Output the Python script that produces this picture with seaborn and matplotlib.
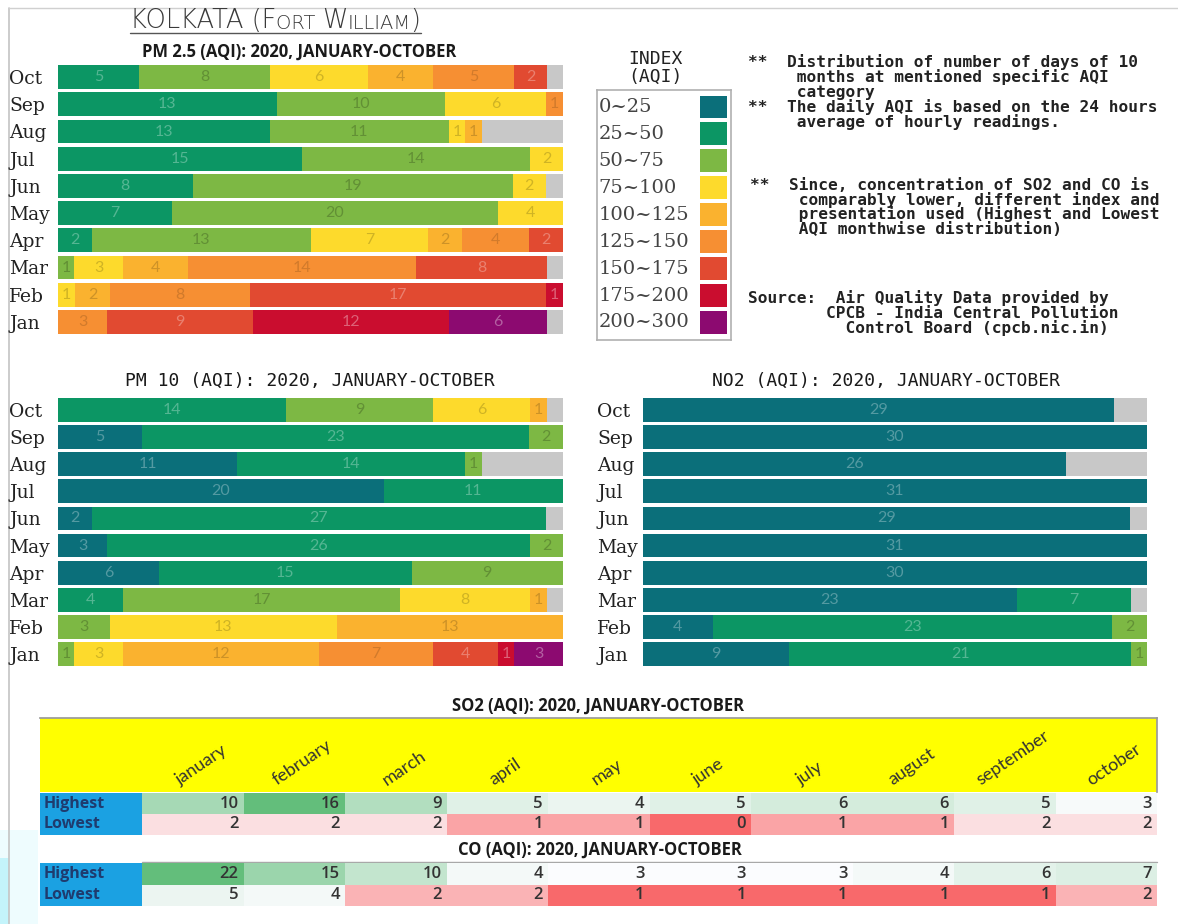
import numpy as np
import pandas as pd
import matplotlib.pyplot as plt
import seaborn as sns
from matplotlib.colors import LinearSegmentedColormap, TwoSlopeNorm, to_rgb
from matplotlib.lines import Line2D
from matplotlib.patches import Rectangle

# AQI categories and colours
aqi_bins = ['0~25', '25~50', '50~75', '75~100', '100~125', '125~150', '150~175', '175~200', '200~300']
aqi_colors = ['#0B6F7A', '#0C9664', '#7DB844', '#FDDA2C', '#FAB22F', '#F68F33', '#E14A31', '#CA0D2F', '#8C0A70']
missing_color = '#C8C8C8'

# months, top row first
months_short = ['Oct', 'Sep', 'Aug', 'Jul', 'Jun', 'May', 'Apr', 'Mar', 'Feb', 'Jan']
days_in_month = [31, 30, 31, 31, 30, 31, 30, 31, 29, 31]

# number of days per AQI category (columns follow aqi_bins)
pm25_days = [[0, 5, 8, 6, 4, 5, 2, 0, 0],
             [0, 13, 10, 6, 0, 1, 0, 0, 0],
             [0, 13, 11, 1, 1, 0, 0, 0, 0],
             [0, 15, 14, 2, 0, 0, 0, 0, 0],
             [0, 8, 19, 2, 0, 0, 0, 0, 0],
             [0, 7, 20, 4, 0, 0, 0, 0, 0],
             [0, 2, 13, 7, 2, 4, 2, 0, 0],
             [0, 0, 1, 3, 4, 14, 8, 0, 0],
             [0, 0, 0, 1, 2, 8, 17, 1, 0],
             [0, 0, 0, 0, 0, 3, 9, 12, 6]]

pm10_days = [[0, 14, 9, 6, 1, 0, 0, 0, 0],
             [5, 23, 2, 0, 0, 0, 0, 0, 0],
             [11, 14, 1, 0, 0, 0, 0, 0, 0],
             [20, 11, 0, 0, 0, 0, 0, 0, 0],
             [2, 27, 0, 0, 0, 0, 0, 0, 0],
             [3, 26, 2, 0, 0, 0, 0, 0, 0],
             [6, 15, 9, 0, 0, 0, 0, 0, 0],
             [0, 4, 17, 8, 1, 0, 0, 0, 0],
             [0, 0, 3, 13, 13, 0, 0, 0, 0],
             [0, 0, 1, 3, 12, 7, 4, 1, 3]]

no2_days = [[29, 0, 0, 0, 0, 0, 0, 0, 0],
            [30, 0, 0, 0, 0, 0, 0, 0, 0],
            [26, 0, 0, 0, 0, 0, 0, 0, 0],
            [31, 0, 0, 0, 0, 0, 0, 0, 0],
            [29, 0, 0, 0, 0, 0, 0, 0, 0],
            [31, 0, 0, 0, 0, 0, 0, 0, 0],
            [30, 0, 0, 0, 0, 0, 0, 0, 0],
            [23, 7, 0, 0, 0, 0, 0, 0, 0],
            [4, 23, 2, 0, 0, 0, 0, 0, 0],
            [9, 21, 1, 0, 0, 0, 0, 0, 0]]

# SO2 / CO highest and lowest AQI per month
months_long = ['january', 'february', 'march', 'april', 'may', 'june',
               'july', 'august', 'september', 'october']
so2_highest = [10, 16, 9, 5, 4, 5, 6, 6, 5, 3]
so2_lowest = [2, 2, 2, 1, 1, 0, 1, 1, 2, 2]
co_highest = [22, 15, 10, 4, 3, 3, 3, 4, 6, 7]
co_lowest = [5, 4, 2, 2, 1, 1, 1, 1, 1, 2]

notes = ["**  Distribution of number of days of 10",
         "     months at mentioned specific AQI",
         "     category",
         "**  The daily AQI is based on the 24 hours",
         "     average of hourly readings."]
notes2 = ["**  Since, concentration of SO2 and CO is",
          "     comparably lower, different index and",
          "     presentation used (Highest and Lowest",
          "     AQI monthwise distribution)"]
source = ["Source:  Air Quality Data provided by",
          "        CPCB - India Central Pollution",
          "          Control Board (cpcb.nic.in)"]

sns.set_theme(style='white')
plt.rcParams['font.family'] = ['DejaVu Sans']

W, H = 1178, 924
fig = plt.figure(figsize=(W / 100, H / 100), dpi=100)


def box(x0, y0, x1, y1):
    return [x0 / W, 1 - y1 / H, (x1 - x0) / W, (y1 - y0) / H]


def fy(y):
    return 1 - y / H


def shade(color, amount):
    c = np.array(to_rgb(color))
    if amount > 0:
        return tuple(c + (1 - c) * amount)
    return tuple(c * (1 + amount))


label_shift = [0.3, 0.3, -0.22, -0.18, -0.18, -0.15, 0.3, 0.35, 0.35]

ax_bg = fig.add_axes([0, 0, 1, 1])
ax_bg.set_axis_off()
ax_bg.set_xlim(0, W)
ax_bg.set_ylim(H, 0)

# frame and screen artefact
ax_bg.add_line(Line2D([9, 9], [8, H], color='#c4c4c4', lw=1.2))
ax_bg.add_line(Line2D([9, W], [8, 8], color='#d0d0d0', lw=1))
ax_bg.add_patch(Rectangle((0, 830), 38, 94, color='#eefcfe', lw=0))
ax_bg.add_patch(Rectangle((0, 858), 9, 66, color='#c4f4fb', lw=0))

# main title with small caps look
pieces = [("KOLKATA (F", 18.5), ("ORT ", 14), ("W", 18.5), ("ILLIAM", 14), (")", 18.5)]
t = ax_bg.text(130, 33, pieces[0][0], fontsize=pieces[0][1], va='bottom', ha='left',
               color='#3a3a3a', fontweight='light')
first = t
for txt, sz in pieces[1:]:
    t = ax_bg.annotate(txt, xy=(1, 0), xycoords=t, va='bottom', ha='left', fontsize=sz,
                       color='#3a3a3a', fontweight='light')
fig.canvas.draw()
r = fig.canvas.get_renderer()
x0 = first.get_window_extent(r).x0
x1 = t.get_window_extent(r).x1
ax_bg.add_line(Line2D([x0, x1], [33, 33], color='#555555', lw=1))


def stacked(ax, days, label_pad):
    df = pd.DataFrame(days, index=months_short, columns=aqi_bins)
    total = pd.Series(days_in_month, index=months_short)
    share = df.div(total, axis=0)
    y = np.arange(len(df))
    left = np.zeros(len(df))
    for j, cat in enumerate(aqi_bins):
        bars = ax.barh(y, share[cat].values, left=left, height=0.88,
                       color=aqi_colors[j], linewidth=0)
        labels = [str(v) if v > 0 else '' for v in df[cat]]
        ax.bar_label(bars, labels=labels, label_type='center',
                     color=shade(aqi_colors[j], label_shift[j]),
                     fontsize=11.5, family='Lato')
        left = left + share[cat].values
    ax.barh(y, np.clip(1 - left, 0, None), left=left, height=0.88,
            color=missing_color, linewidth=0)
    ax.set_xlim(0, 1)
    ax.set_ylim(len(df) - 0.5, -0.5)
    ax.set_xticks([])
    ax.set_yticks(y, months_short)
    ax.tick_params(axis='y', length=0, pad=label_pad)
    for lab in ax.get_yticklabels():
        lab.set_horizontalalignment('left')
        lab.set_family('DejaVu Serif')
        lab.set_fontsize(13.5)
        lab.set_color('#222222')
    sns.despine(ax=ax, left=True, bottom=True)


ax25 = fig.add_axes(box(58, 63.5, 563, 335.5))
stacked(ax25, pm25_days, 35)
ax10 = fig.add_axes(box(58, 396.5, 563, 667.5))
stacked(ax10, pm10_days, 35)
axno2 = fig.add_axes(box(643, 396.5, 1147, 667.5))
stacked(axno2, no2_days, 33)

title_kw = dict(ha='center', va='center', color='#1a1a1a')
fig.text(299 / W, fy(52), "PM 2.5 (AQI): 2020, JANUARY-OCTOBER", family='Open Sans',
         fontweight='bold', fontsize=12, **title_kw)
fig.text(310 / W, fy(381), "PM 10 (AQI): 2020, JANUARY-OCTOBER", family='DejaVu Sans Mono',
         fontsize=13, **title_kw)
fig.text(886 / W, fy(381), "NO2 (AQI): 2020, JANUARY-OCTOBER", family='DejaVu Sans Mono',
         fontsize=13, **title_kw)

# legend box
axl = fig.add_axes(box(597, 90, 731, 340))
axl.barh(np.arange(len(aqi_bins)), 0.2, left=0.77, height=0.85, color=aqi_colors, linewidth=0)
for i, lab in enumerate(aqi_bins):
    axl.text(0.01, i, lab, va='center', ha='left', family='DejaVu Serif',
             fontsize=14, color='#444444')
axl.set_xlim(0, 1)
axl.set_ylim(8.65, -0.63)
axl.set_xticks([])
axl.set_yticks([])
for s in axl.spines.values():
    s.set_visible(True)
    s.set_color('#b0b0b0')
    s.set_linewidth(1.2)
fig.text(655 / W, fy(68), "INDEX\n(AQI)", ha='center', va='center', family='DejaVu Sans Mono',
         fontsize=13, linespacing=1.05, color='#222222')

# notes
note_kw = dict(ha='left', va='center', family='DejaVu Sans Mono', fontweight='bold',
               fontsize=11.6, color='#222222')
for i, line in enumerate(notes):
    fig.text(748 / W, fy(62 + 15 * i), line, **note_kw)
for i, line in enumerate(notes2):
    fig.text(750 / W, fy(185 + 14.7 * i), line, **note_kw)
for i, line in enumerate(source):
    fig.text(748 / W, fy(298 + 15 * i), line, **note_kw)

# SO2 / CO tables
excel_cmap = LinearSegmentedColormap.from_list('excel3', ['#F8696B', '#FCFCFF', '#63BE7B'])


def minmax_table(ax_lab, ax_val, highest, lowest):
    vals = pd.DataFrame([highest, lowest], index=['Highest', 'Lowest'], columns=months_long)
    v = vals.values
    norm = TwoSlopeNorm(vmin=v.min(), vcenter=np.median(v), vmax=v.max())
    sns.heatmap(vals, ax=ax_val, cmap=excel_cmap, norm=norm, cbar=False, annot=True, fmt='d',
                xticklabels=False, yticklabels=False,
                annot_kws={'color': '#333333', 'fontsize': 12, 'fontweight': 'semibold',
                           'family': 'Open Sans'})
    for tx in ax_val.texts:
        x, y = tx.get_position()
        tx.set_position((x + 0.45, y))
        tx.set_ha('right')
    ax_lab.set_facecolor('#1BA1E2')
    ax_lab.set_xlim(0, 1)
    ax_lab.set_ylim(2, 0)
    for i, name in enumerate(vals.index):
        ax_lab.text(0.04, i + 0.5, name, va='center', ha='left', family='Open Sans',
                    fontweight='bold', fontsize=11.5, color='#1F3B6E')
    ax_lab.set_xticks([])
    ax_lab.set_yticks([])
    for s in ax_lab.spines.values():
        s.set_visible(False)


fig.text(598 / W, fy(706), "SO2 (AQI): 2020, JANUARY-OCTOBER", family='Open Sans',
         fontweight='bold', fontsize=12, **title_kw)
fig.text(600 / W, fy(850), "CO (AQI): 2020, JANUARY-OCTOBER", family='Open Sans',
         fontweight='bold', fontsize=12, **title_kw)

axh = fig.add_axes(box(40, 718, 1157, 792))
axh.set_facecolor('#FFFF00')
axh.set_xlim(-102 / 101.5, len(months_long))
axh.set_ylim(0, 1)
axh.set_xticks([])
axh.set_yticks([])
for i, m in enumerate(months_long):
    axh.text(i + 0.58, 0.05, m, rotation=34, ha='center', va='bottom', family='Lato',
             fontsize=13, color='#333333')
for side, s in axh.spines.items():
    s.set_visible(side in ('top', 'right'))
    s.set_color('#9a9a9a')

minmax_table(fig.add_axes(box(40, 793, 142, 835)), fig.add_axes(box(142, 793, 1157, 835)),
             so2_highest, so2_lowest)
ax_co = fig.add_axes(box(142, 863, 1157, 906))
minmax_table(fig.add_axes(box(40, 863, 142, 906)), ax_co, co_highest, co_lowest)
ax_bg.add_line(Line2D([142, 1157], [862, 862], color='#a8a8a8', lw=1))

fig.savefig('out.png', dpi=100)
